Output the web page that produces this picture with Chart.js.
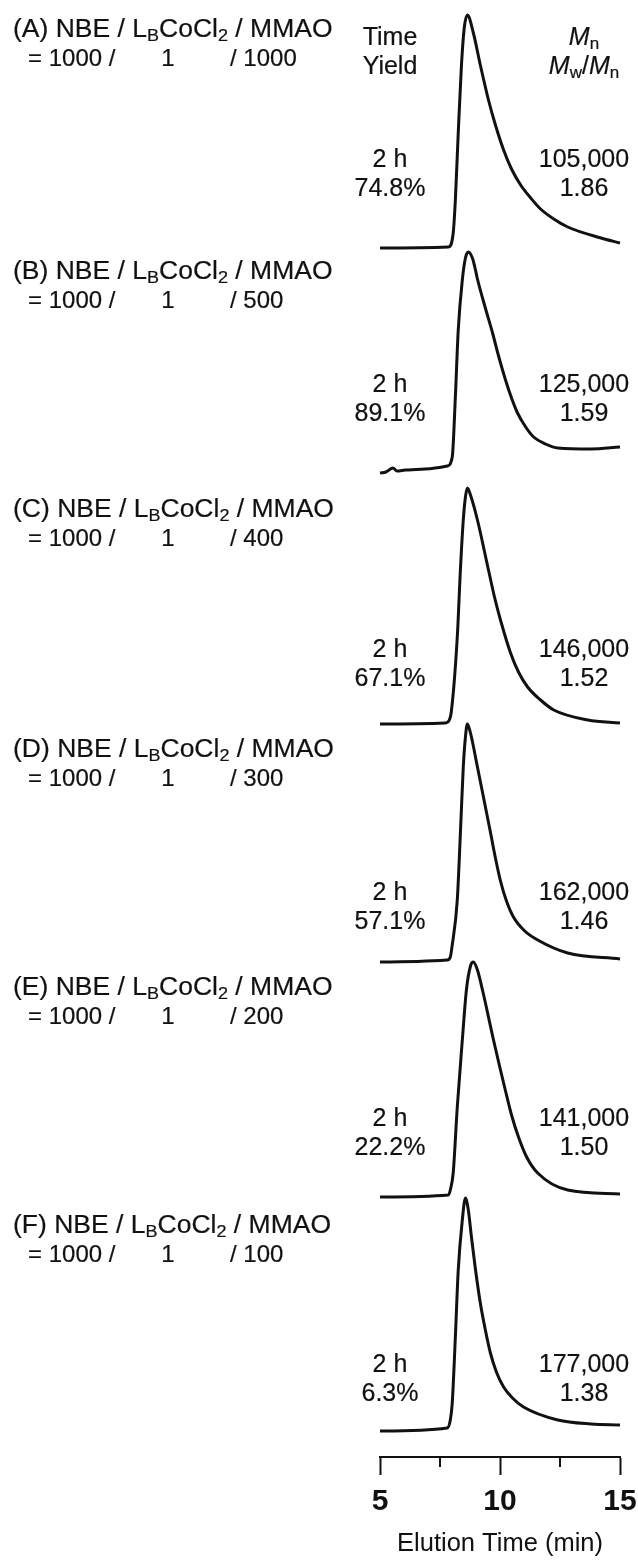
<!DOCTYPE html>
<html>
<head>
<meta charset="utf-8">
<script src="https://cdn.jsdelivr.net/npm/chart.js@4.4.0/dist/chart.umd.min.js"></script>
<style>
  body { margin: 0; background: #fff; }
  #wrap { position: relative; width: 638px; height: 1560px; font-family: "Liberation Sans", Arial, sans-serif; color: #111; }
  #wrap canvas { position: absolute; left: 0; top: 0; }
  .t { position: absolute; font-size: 25px; line-height: 30px; white-space: pre; -webkit-text-stroke: 0.2px #111; }
  .c { transform: translateX(-50%); }
  .w { transform: scaleX(1.06); transform-origin: 0 50%; }
  .s { font-size: 24px; }
  .t sub { font-size: 17px; vertical-align: -4px; line-height: 0; }
</style>
</head>
<body>
<div id="wrap"><canvas id="chart" width="638" height="1560"></canvas></div>
<script>
// Runs and results
const runs = ["A", "B", "C", "D", "E", "F"];
const nbe = 1000;
const cat = 1;
const mmao = [1000, 500, 400, 300, 200, 100];
const times = ["2 h", "2 h", "2 h", "2 h", "2 h", "2 h"];
const yields = ["74.8%", "89.1%", "67.1%", "57.1%", "22.2%", "6.3%"];
const mn = ["105,000", "125,000", "146,000", "162,000", "141,000", "177,000"];
const pdi = ["1.86", "1.59", "1.52", "1.46", "1.50", "1.38"];

// x axis
const xMajor = [5, 10, 15];
const xMinor = [7.5, 12.5];

// GPC traces: [elution time (min), signal (a.u.)], stacked by offsets
const offsets = [1209, 984, 733, 495, 260, 26];
const traceA = [[5, 0], [7.85, 1], [8.05, 15], [8.14, 48], [8.26, 115], [8.39, 181], [8.51, 220], [8.64, 233],
  [8.89, 215], [9.18, 183], [9.52, 148], [9.81, 123], [10.15, 98], [10.48, 79], [10.86, 63], [11.28, 50],
  [11.69, 39], [12.24, 29], [12.82, 21], [14.21, 10], [15, 5]];
const traceB = [[5, 0], [5.25, 1], [5.54, 5], [5.71, 2], [6.05, 3], [6.88, 4], [7.8, 7], [8.01, 16], [8.14, 76],
  [8.26, 143], [8.43, 193], [8.56, 215], [8.68, 221], [8.85, 215], [8.95, 206], [9.06, 194], [9.39, 165],
  [9.69, 140], [9.94, 117], [10.23, 93], [10.48, 75], [10.73, 60], [11.07, 46], [11.4, 36], [11.9, 29],
  [12.41, 25], [13.79, 24], [15, 26]];
const traceC = [[5, 0], [7.72, 1], [7.89, 4], [7.97, 12], [8.22, 87], [8.35, 154], [8.47, 204], [8.56, 227], [8.64, 236],
  [8.77, 229], [9.06, 204], [9.52, 154], [9.77, 127], [10.02, 104], [10.44, 71], [10.77, 52], [11.15, 37],
  [11.69, 24], [12.24, 14], [13.66, 4], [15, 1]];
const traceD = [[5, 0], [7.8, 2], [7.93, 5], [8.01, 17], [8.22, 62], [8.35, 129], [8.47, 195], [8.56, 225], [8.64, 238],
  [8.77, 229], [9.06, 195], [9.6, 130], [9.81, 104], [10.02, 81], [10.27, 61], [10.56, 45], [11.03, 31],
  [11.57, 22], [12.82, 9], [15, 3]];
const traceE = [[5, 0], [7.85, 2], [7.93, 7], [8.05, 24], [8.22, 90], [8.43, 157], [8.6, 207], [8.77, 231], [8.89, 235],
  [9.06, 227], [9.27, 207], [9.73, 157], [9.98, 131], [10.23, 106], [10.48, 82], [10.77, 60], [11.11, 40],
  [11.57, 24], [12.82, 7], [15, 3]];
const traceF = [[5, 0], [7.8, 3], [7.93, 11], [8.01, 28], [8.14, 94], [8.26, 161], [8.43, 211], [8.56, 233],
  [8.68, 221], [8.81, 194], [8.97, 163], [9.18, 128], [9.39, 101], [9.6, 78], [9.85, 59], [10.15, 44],
  [10.52, 33], [10.98, 24], [12.41, 11], [13.79, 7], [15, 6]];
const traces = [traceA, traceB, traceC, traceD, traceE, traceF];

// text rows (centre of first line, px)
const labelY = [28, 270, 508, 748, 986, 1224];
const infoY = [158, 383, 648, 891, 1117, 1363];

const ink = "#111";

const minorTicks = {
  id: "minorTicks",
  afterDraw(chart) {
    const x = chart.scales.x;
    const ctx = chart.ctx;
    ctx.save();
    ctx.strokeStyle = ink;
    ctx.lineWidth = 2;
    xMinor.forEach(v => {
      const px = Math.round(x.getPixelForValue(v));
      ctx.beginPath();
      ctx.moveTo(px, x.top);
      ctx.lineTo(px, x.top + 10);
      ctx.stroke();
    });
    ctx.restore();
  }
};

new Chart(document.getElementById("chart"), {
  type: "line",
  data: {
    datasets: traces.map((tr, i) => ({
      label: runs[i],
      data: tr.map(p => ({ x: p[0], y: p[1] + offsets[i] })),
      borderColor: ink,
      borderWidth: 3,
      pointRadius: 0,
      fill: false,
      cubicInterpolationMode: "monotone",
      clip: false
    }))
  },
  options: {
    responsive: false,
    animation: false,
    layout: { padding: { left: 380, right: 18, top: 0, bottom: 0 } },
    plugins: { legend: { display: false }, tooltip: { enabled: false } },
    scales: {
      x: {
        type: "linear",
        min: 5,
        max: 15,
        afterBuildTicks: s => { s.ticks = xMajor.map(v => ({ value: v })); },
        afterFit: s => { s.height = 103; s.paddingLeft = 0; s.paddingRight = 0; },
        ticks: { color: ink, padding: 9, font: { family: "Liberation Sans", size: 30, weight: "bold" } },
        grid: { drawOnChartArea: false, tickLength: 18, tickWidth: 2, color: ink },
        border: { color: ink, width: 2 },
        title: {
          display: true,
          text: "Elution Time (min)",
          color: ink,
          font: { family: "Liberation Sans", size: 25.5 },
          padding: { top: 0, bottom: 1 }
        }
      },
      y: { display: false, min: 0, max: 1457 }
    }
  },
  plugins: [minorTicks]
});

// text
const wrap = document.getElementById("wrap");
function put(html, left, cy, cls) {
  const d = document.createElement("div");
  d.className = "t" + (cls ? " " + cls : "");
  d.innerHTML = html;
  d.style.left = left + "px";
  d.style.top = (cy - 15) + "px";
  wrap.appendChild(d);
}

put("Time", 390, 36, "c");
put("Yield", 390, 65, "c");
put("<i>M</i><sub>n</sub>", 584, 36, "c");
put("<i>M</i><sub>w</sub>/<i>M</i><sub>n</sub>", 584, 65, "c");

runs.forEach((r, i) => {
  const y = labelY[i];
  put("(" + r + ") NBE / L<sub>B</sub>CoCl<sub>2</sub> / MMAO", 13, y, "w");
  put("= " + nbe + " /", 28, y + 30, "s");
  put(String(cat), 168, y + 30, "c s");
  put("/ " + mmao[i], 230, y + 30, "s");

  put(times[i], 390, infoY[i], "c");
  put(yields[i], 390, infoY[i] + 29, "c");
  put(mn[i], 584, infoY[i], "c");
  put(pdi[i], 584, infoY[i] + 29, "c");
});
</script>
</body>
</html>
